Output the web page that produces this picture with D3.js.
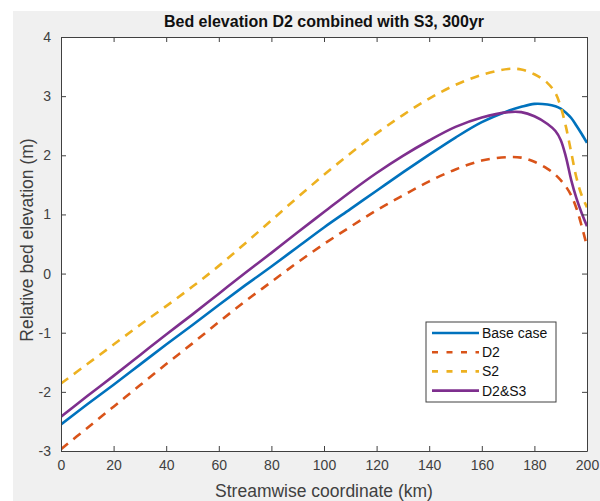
<!DOCTYPE html>
<html>
<head>
<meta charset="utf-8">
<script src="https://cdn.jsdelivr.net/npm/d3@7"></script>
<style>
  body { margin: 0; background: #fff; }
  text { font-family: "Liberation Sans", Arial, Helvetica, sans-serif; }
</style>
</head>
<body>
<div id="chart"></div>
<script>
// streamwise coordinate (km)
const xs = [0, 10, 20, 30, 40, 50, 60, 70, 80, 90, 100, 110, 120, 130, 140, 150, 160, 170, 175, 180, 185, 188, 190, 192, 194, 196, 198, 200]

const baseCase = [-2.55, -2.21, -1.88, -1.54, -1.20, -0.87, -0.53, -0.20, 0.12, 0.45, 0.78, 1.09, 1.40, 1.71, 2.01, 2.30, 2.56, 2.75, 2.82, 2.87, 2.86, 2.83, 2.79, 2.72, 2.63, 2.50, 2.36, 2.21]
const d2 = [-2.97, -2.61, -2.25, -1.89, -1.53, -1.18, -0.82, -0.47, -0.14, 0.19, 0.50, 0.79, 1.07, 1.32, 1.56, 1.76, 1.91, 1.97, 1.96, 1.89, 1.77, 1.67, 1.58, 1.47, 1.32, 1.10, 0.80, 0.46]
const s2 = [-1.86, -1.53, -1.20, -0.87, -0.55, -0.22, 0.13, 0.51, 0.90, 1.29, 1.67, 2.03, 2.37, 2.68, 2.96, 3.19, 3.36, 3.46, 3.45, 3.37, 3.22, 3.05, 2.82, 2.48, 2.05, 1.62, 1.32, 1.12]
const d2s3 = [-2.42, -2.07, -1.73, -1.38, -1.03, -0.69, -0.34, 0.01, 0.35, 0.70, 1.04, 1.38, 1.70, 1.99, 2.25, 2.48, 2.64, 2.73, 2.73, 2.66, 2.53, 2.41, 2.26, 1.97, 1.58, 1.27, 1.02, 0.80]

const xTicks = [0, 20, 40, 60, 80, 100, 120, 140, 160, 180, 200]
const yTicks = [-3, -2, -1, 0, 1, 2, 3, 4]

const series = [
  {name: 'Base case', values: baseCase, color: '#0072BD', dash: null},
  {name: 'D2', values: d2, color: '#D95319', dash: '9,7'},
  {name: 'S2', values: s2, color: '#EDB120', dash: '9,7'},
  {name: 'D2&S3', values: d2s3, color: '#7E2F8E', dash: null}
]

const width = 600, height = 501
const m = {left: 61, right: 13, top: 37, bottom: 50}
const axisColor = '#404040'

let svg = d3.select('#chart').append('svg')
  .attr('width', width)
  .attr('height', height)

svg.append('rect')
  .attr('x', 13).attr('y', 11)
  .attr('width', width - 13).attr('height', height - 11)
  .attr('fill', '#f0f0f0')

let x = d3.scaleLinear().domain([0, 200]).range([m.left, width - m.right])
let y = d3.scaleLinear().domain([-3, 4]).range([height - m.bottom, m.top])

svg.append('rect')
  .attr('x', x(0)).attr('y', y(4))
  .attr('width', x(200) - x(0)).attr('height', y(-3) - y(4))
  .attr('fill', '#fff')

// lines
let line = d3.line()
  .x((d, i) => x(xs[i]))
  .y(d => y(d))
  .curve(d3.curveCatmullRom.alpha(0.5))

svg.append('defs').append('clipPath').attr('id', 'clip')
  .append('rect')
  .attr('x', x(0)).attr('y', y(4))
  .attr('width', x(200) - x(0)).attr('height', y(-3) - y(4))

let g = svg.append('g').attr('clip-path', 'url(#clip)')
g.selectAll('.series')
  .data(series)
  .enter().append('path')
  .attr('class', 'series')
  .attr('d', d => line(d.values))
  .attr('fill', 'none')
  .attr('stroke', d => d.color)
  .attr('stroke-width', 2.6)
  .attr('stroke-dasharray', d => d.dash)

// axes
function styleAxis(sel) {
  sel.select('.domain').attr('stroke', axisColor)
  sel.selectAll('.tick line').attr('stroke', axisColor)
  sel.selectAll('.tick text')
    .attr('fill', axisColor)
    .style('font-size', '14px')
    .style('font-family', '"Liberation Sans", Arial, sans-serif')
}

let fmt = d => String(d)

svg.append('g')
  .attr('transform', `translate(0,${y(-3)})`)
  .call(d3.axisBottom(x).tickValues(xTicks).tickSizeInner(-5).tickSizeOuter(0).tickPadding(9).tickFormat(fmt))
  .call(styleAxis)

svg.append('g')
  .attr('transform', `translate(0,${y(4)})`)
  .call(d3.axisTop(x).tickValues(xTicks).tickSizeInner(-5).tickSizeOuter(0).tickFormat(''))
  .call(styleAxis)

svg.append('g')
  .attr('transform', `translate(${x(0)},0)`)
  .call(d3.axisLeft(y).tickValues(yTicks).tickSizeInner(-5).tickSizeOuter(0).tickPadding(10).tickFormat(fmt))
  .call(styleAxis)

svg.append('g')
  .attr('transform', `translate(${x(200)},0)`)
  .call(d3.axisRight(y).tickValues(yTicks).tickSizeInner(-5).tickSizeOuter(0).tickFormat(''))
  .call(styleAxis)

// title and labels
svg.append('text')
  .attr('x', (x(0) + x(200)) / 2)
  .attr('y', 27)
  .attr('text-anchor', 'middle')
  .attr('fill', '#111')
  .style('font-size', '16px')
  .style('font-weight', 'bold')
  .text('Bed elevation D2 combined with S3, 300yr')

svg.append('text')
  .attr('x', (x(0) + x(200)) / 2)
  .attr('y', 497)
  .attr('text-anchor', 'middle')
  .attr('fill', axisColor)
  .style('font-size', '17.5px')
  .text('Streamwise coordinate (km)')

svg.append('text')
  .attr('transform', `translate(33,${(y(4) + y(-3)) / 2 - 4}) rotate(-90)`)
  .attr('text-anchor', 'middle')
  .attr('fill', axisColor)
  .style('font-size', '17.5px')
  .text('Relative bed elevation (m)')

// legend
let lg = svg.append('g').attr('transform', 'translate(426,322)')
lg.append('rect')
  .attr('width', 130).attr('height', 80)
  .attr('fill', '#fff')
  .attr('stroke', axisColor)

let items = lg.selectAll('.item')
  .data(series)
  .enter().append('g')
  .attr('class', 'item')
  .attr('transform', (d, i) => `translate(0,${11 + i * 19.2})`)

items.append('line')
  .attr('x1', 6).attr('x2', 53)
  .attr('stroke', d => d.color)
  .attr('stroke-width', 2.6)
  .attr('stroke-dasharray', d => d.dash ? '6,8.5' : null)

items.append('text')
  .attr('x', 56).attr('y', 5)
  .attr('fill', '#111')
  .style('font-size', '14px')
  .text(d => d.name)
</script>
</body>
</html>
